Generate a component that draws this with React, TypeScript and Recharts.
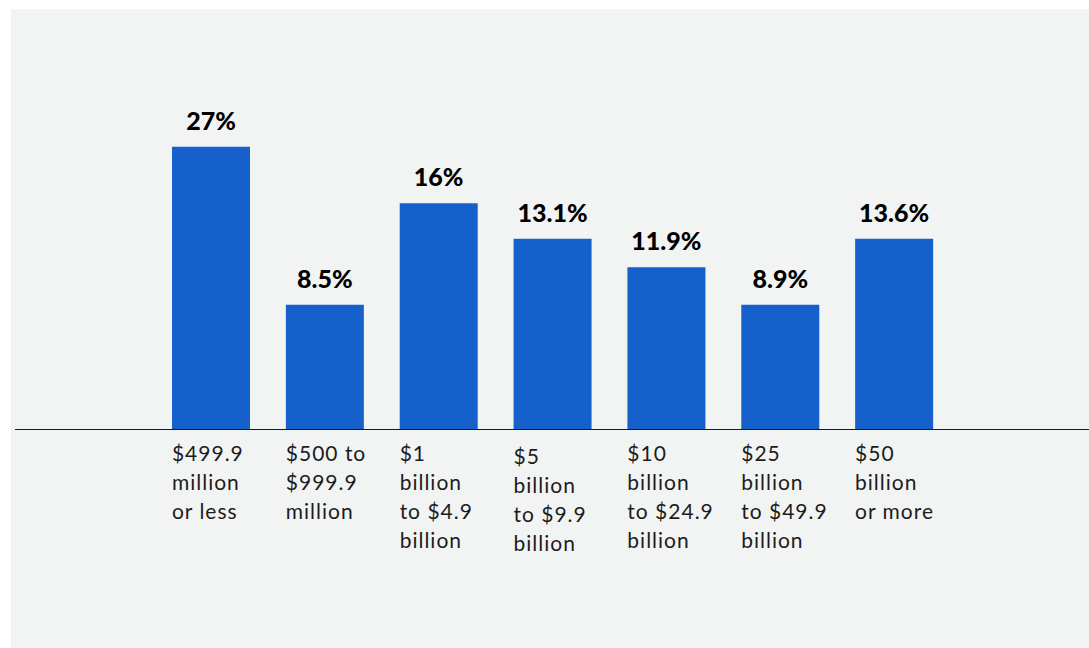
import { BarChart, Bar, XAxis, YAxis, LabelList } from "recharts";

// revenue brackets, one line per row of the axis label
const categoryLines: string[][] = [
  ["$499.9", "million", "or less"],
  ["$500 to", "$999.9", "million"],
  ["$1", "billion", "to $4.9", "billion"],
  ["$5", "billion", "to $9.9", "billion"],
  ["$10", "billion", "to $24.9", "billion"],
  ["$25", "billion", "to $49.9", "billion"],
  ["$50", "billion", "or more"],
];

// printed shares
const shareLabels = ["27%", "8.5%", "16%", "13.1%", "11.9%", "8.9%", "13.6%"];

// bar heights as drawn in the picture (the source art is not to scale)
const barLevels = [27, 11.9, 21.6, 18.2, 15.5, 11.9, 18.2];

const data = categoryLines.map((lines, i) => ({
  name: lines.join(" "),
  level: barLevels[i],
  label: shareLabels[i],
}));

const FONT = "Lato, 'Open Sans', sans-serif";

function CategoryTick(props: any) {
  const { x, y, index } = props;
  const lines = categoryLines[index] || [];
  const shift = index === 3 ? 3 : 0;
  return (
    <text x={x - 39} y={y + 31 + shift} textAnchor="start" fill="#1c1c1c" fontFamily={FONT} fontSize={21} letterSpacing={1}>
      {lines.map((line, i) => (
        <tspan key={i} x={x - 39} dy={i === 0 ? 0 : 29.3}>
          {line}
        </tspan>
      ))}
    </text>
  );
}

function ShareLabel(props: any) {
  const { x, y, width, index } = props;
  return (
    <text x={x + width / 2} y={y - 17} textAnchor="middle" fill="#000" fontFamily={FONT} fontWeight={900} fontSize={25}>
      {shareLabels[index]}
    </text>
  );
}

export default function App() {
  return (
    <div style={{ position: "absolute", left: 0, top: 0, width: 1089, height: 648, background: "#fff", overflow: "hidden" }}>
      <div style={{ position: "absolute", left: 11, top: 9, width: 1078, height: 639, background: "#f2f4f3" }} />
      <div style={{ position: "absolute", left: 0, top: 0 }}>
        <BarChart width={1089} height={648} data={data} margin={{ top: 0, right: 0, bottom: 0, left: 15 }}>
          <YAxis hide domain={[0, 41]} />
          <XAxis
            dataKey="name"
            height={218.5}
            interval={0}
            padding={{ left: 139, right: 138 }}
            axisLine={{ stroke: "#1a1a1a", strokeWidth: 1 }}
            tickLine={false}
            tickSize={0}
            tickMargin={0}
            tick={<CategoryTick />}
          />
          <Bar dataKey="level" fill="#1660cb" barSize={78} isAnimationActive={false}>
            <LabelList dataKey="label" content={<ShareLabel />} />
          </Bar>
        </BarChart>
      </div>
    </div>
  );
}
